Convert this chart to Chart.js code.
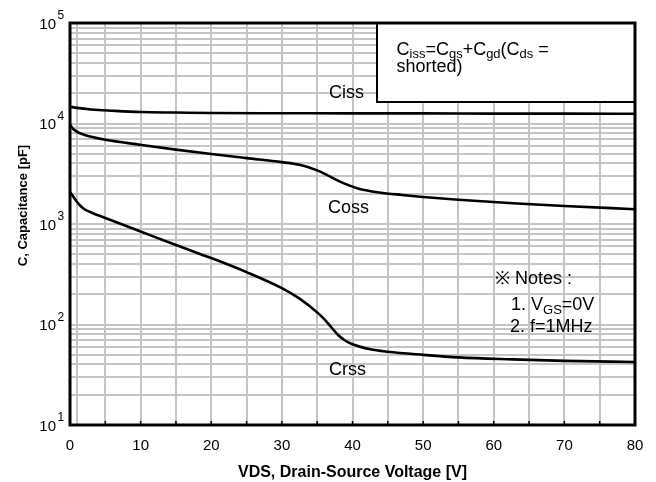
<!DOCTYPE html>
<html>
<head>
<meta charset="utf-8">
<script src="https://cdn.jsdelivr.net/npm/chart.js@4.4.0/dist/chart.umd.min.js"></script>
<style>
  body { margin: 0; background: #fff; }
  #wrap { width: 656px; height: 482px; }
</style>
</head>
<body>
<div id="wrap"><canvas id="capChart" width="656" height="482"></canvas></div>
<script>
/* DATA */

const cissVds = [0, 1, 3, 6, 10, 15, 20, 30, 40, 50, 60, 70, 80];
const cissPf = [14700, 14300, 13800, 13400, 13000, 12850, 12700, 12650, 12600, 12600, 12550, 12550, 12500];

const cossVds = [0, 0.5, 1, 2, 3, 5, 10, 15, 20, 25, 30, 32.5, 35, 36.5, 38, 39.5, 41, 43.8, 47, 50, 55, 62.7, 70, 80];
const cossPf = [9716, 8762, 8275, 7724, 7377, 6885, 6138, 5497, 4970, 4523, 4126, 3877, 3418, 3047, 2685, 2421, 2234, 2062, 1947, 1859, 1743, 1609, 1512, 1402];

const crssVds = [0, 0.5, 1, 1.5, 2, 3, 5, 10, 15, 20, 25, 30, 32.5, 35, 36, 37, 38, 39, 40, 42.5, 45, 50, 55, 62.7, 70, 80];
const crssPf = [2084, 1859, 1658, 1512, 1411, 1302, 1148, 842, 617, 458, 332, 230, 181, 132, 113, 93.9, 78.1, 68.9, 63.5, 56.6, 53.5, 49.9, 47.1, 45.0, 43.5, 42.3];

const xGridLines = [0, 1, 5, 10, 15, 20, 25, 30, 35, 40, 45, 50, 55, 60, 65, 70, 75, 80];
const xTickLabels = [0, 10, 20, 30, 40, 50, 60, 70, 80];
const yExponents = [1, 2, 3, 4, 5];
const yMultipliers = [1, 2, 3, 4, 5, 6, 7, 8, 9];

const xTitle = "VDS, Drain-Source Voltage [V]";
const yTitle = "C, Capacitance [pF]";

/* HELPERS */

const FONT = "'Liberation Sans', Arial, Helvetica, sans-serif";

function toPoints(xs, ys) {
  return xs.map((x, i) => ({ x: x, y: ys[i] }));
}

// log grid: 1..9 in every decade, plus the top value
const yGridValues = [];
yExponents.slice(0, -1).forEach(e => {
  yMultipliers.forEach(m => yGridValues.push(m * Math.pow(10, e)));
});
yGridValues.push(Math.pow(10, yExponents[yExponents.length - 1]));

// draws text made of normal and subscript parts, returns end x
function drawParts(ctx, parts, x, y, size, subSize, drop) {
  ctx.textAlign = "left";
  ctx.textBaseline = "alphabetic";
  parts.forEach(p => {
    const sub = p[1];
    ctx.font = (sub ? subSize : size) + "px " + FONT;
    ctx.fillText(p[0], x, sub ? y + drop : y);
    x += ctx.measureText(p[0]).width;
  });
  return x;
}

/* DRAW TEXT, BORDER, NOTE BOX */

const decorPlugin = {
  id: "decor",
  afterDraw(chart) {
    const ctx = chart.ctx;
    const area = chart.chartArea;
    const xs = chart.scales.x;
    const ys = chart.scales.y;

    ctx.save();
    ctx.fillStyle = "#000";
    ctx.strokeStyle = "#000";

    // small inward ticks on the bottom axis
    ctx.lineWidth = 1.5;
    xGridLines.forEach(v => {
      if (v % 5 !== 0) return;
      const px = xs.getPixelForValue(v);
      ctx.beginPath();
      ctx.moveTo(px, area.bottom);
      ctx.lineTo(px, area.bottom - 4);
      ctx.stroke();
    });

    // note box in the top right corner
    ctx.fillStyle = "#fff";
    ctx.fillRect(377, area.top, area.right - 377, 102 - area.top);
    ctx.lineWidth = 2;
    ctx.strokeRect(377, area.top, area.right - 377, 102 - area.top);
    ctx.fillStyle = "#000";
    drawParts(ctx, [["C", 0], ["iss", 1], ["=C", 0], ["gs", 1], ["+C", 0], ["gd", 1], ["(C", 0], ["ds", 1], [" =", 0]], 396.5, 55, 18, 13, 2.5);
    drawParts(ctx, [["shorted)", 0]], 396.5, 71.5, 18, 13, 2.5);

    // plot border
    ctx.lineWidth = 3;
    ctx.strokeRect(area.left, area.top, area.right - area.left, area.bottom - area.top);

    // y tick labels 10^n
    yExponents.forEach(e => {
      const py = ys.getPixelForValue(Math.pow(10, e));
      ctx.font = "15px " + FONT;
      ctx.textAlign = "right";
      ctx.textBaseline = "alphabetic";
      ctx.fillText("10", 56, py + 5.5);
      ctx.font = "12px " + FONT;
      ctx.textAlign = "left";
      ctx.fillText(String(e), 57.5, py - 4);
    });

    // x tick labels
    ctx.font = "15px " + FONT;
    ctx.textAlign = "center";
    xTickLabels.forEach(v => {
      ctx.fillText(String(v), xs.getPixelForValue(v), area.bottom + 24.5);
    });

    // axis titles
    ctx.font = "bold 16px " + FONT;
    ctx.fillText(xTitle, (area.left + area.right) / 2, 477);

    ctx.save();
    ctx.translate(27, 205.5);
    ctx.rotate(-Math.PI / 2);
    ctx.font = "bold 13px " + FONT;
    ctx.textAlign = "center";
    ctx.fillText(yTitle, 0, 0);
    ctx.restore();

    // curve labels
    ctx.font = "18px " + FONT;
    ctx.textAlign = "left";
    ctx.fillText("Ciss", 329, 98);
    ctx.fillText("Coss", 328, 213);
    ctx.fillText("Crss", 329, 375);

    // notes
    ctx.fillText("\u203B Notes :", 495, 284);
    drawParts(ctx, [["1. V", 0], ["GS", 1], ["=0V", 0]], 511, 310, 18, 13, 4);
    drawParts(ctx, [["2. f=1MHz", 0]], 510, 332, 18, 13, 4);

    ctx.restore();
  }
};

/* CHART */

const lineStyle = {
  borderColor: "#000",
  borderWidth: 2.6,
  pointRadius: 0,
  fill: false,
  cubicInterpolationMode: "monotone"
};

new Chart(document.getElementById("capChart"), {
  type: "line",
  data: {
    datasets: [
      Object.assign({ label: "Ciss", data: toPoints(cissVds, cissPf) }, lineStyle),
      Object.assign({ label: "Coss", data: toPoints(cossVds, cossPf) }, lineStyle),
      Object.assign({ label: "Crss", data: toPoints(crssVds, crssPf) }, lineStyle)
    ]
  },
  options: {
    responsive: false,
    animation: false,
    devicePixelRatio: 1,
    layout: {
      padding: { left: 70, right: 21, top: 23, bottom: 57 }
    },
    plugins: {
      legend: { display: false },
      tooltip: { enabled: false }
    },
    scales: {
      x: {
        type: "linear",
        min: 0,
        max: 80,
        afterBuildTicks: axis => {
          axis.ticks = xGridLines.map(v => ({ value: v }));
        },
        ticks: { display: false },
        border: { display: false },
        grid: { color: "#c4c4c4", lineWidth: 2, drawTicks: false }
      },
      y: {
        type: "logarithmic",
        min: 10,
        max: 100000,
        afterBuildTicks: axis => {
          axis.ticks = yGridValues.map(v => ({ value: v }));
        },
        ticks: { display: false },
        border: { display: false },
        grid: { color: "#c4c4c4", lineWidth: 2, drawTicks: false }
      }
    }
  },
  plugins: [decorPlugin]
});
</script>
</body>
</html>
